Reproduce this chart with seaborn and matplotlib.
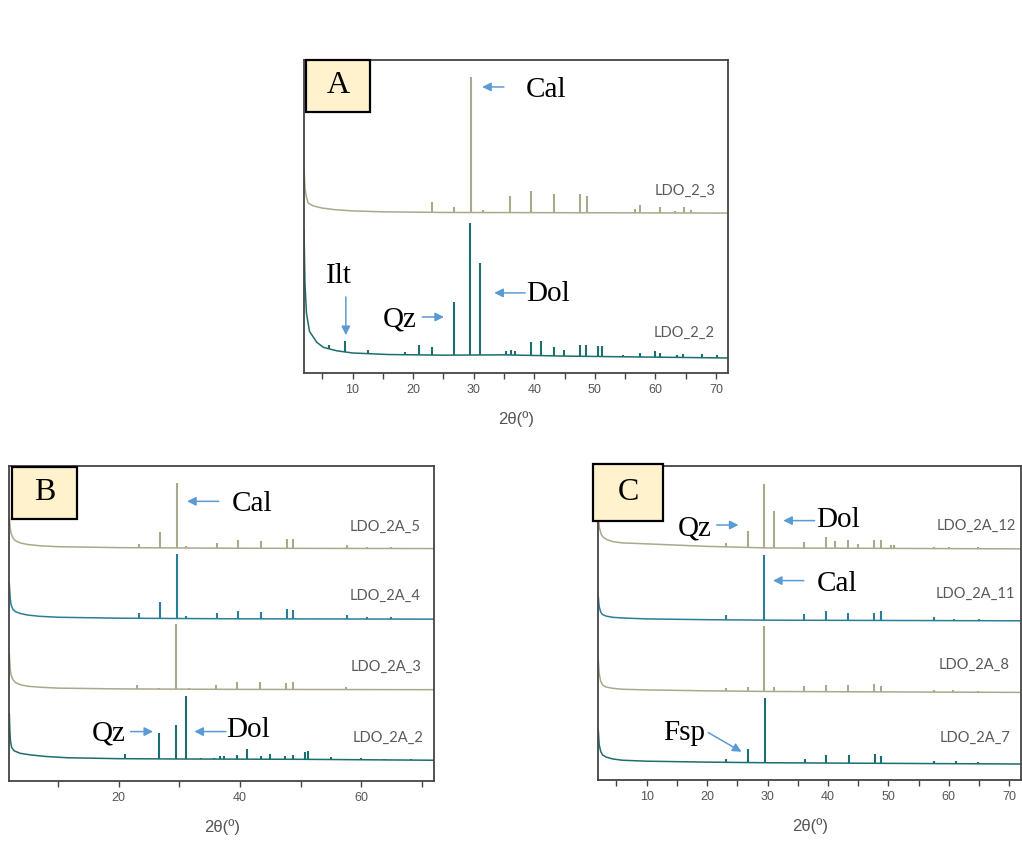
import numpy as np
import matplotlib
matplotlib.use("Agg")
import matplotlib.pyplot as plt
import seaborn as sns
from matplotlib.patches import Rectangle

# ----------------------------
# XRD data (2theta in degrees, intensity in a.u.)
# bg = background curve, pk = peak positions / peak tops
# ----------------------------

# Panel A
a_ldo_2_3_bg_x = [2, 2.15, 2.4, 2.7, 3.5, 5, 7, 10, 15, 25, 72]
a_ldo_2_3_bg_y = [14.3, 8, 5, 3.2, 2.3, 1.6, 1.1, 0.7, 0.4, 0.2, 0]
a_ldo_2_3_pk_x = [23.2, 26.7, 29.5, 31.5, 36.0, 39.5, 43.3, 47.6, 48.7, 56.7, 57.5, 60.7, 63.3, 64.8, 65.8]
a_ldo_2_3_pk_y = [3.5, 1.8, 43.6, 1.0, 5.3, 6.9, 6.1, 6.0, 5.3, 1.2, 2.6, 1.9, 0.7, 2.1, 1.1]

a_ldo_2_2_bg_x = [2, 2.15, 2.4, 2.9, 4.1, 5.2, 7.4, 10, 16, 25, 35, 45, 72]
a_ldo_2_2_bg_y = [40.9, 23.9, 14.3, 8.5, 5.0, 3.4, 2.3, 1.6, 1.1, 0.9, 1.0, 0.6, 0]
a_ldo_2_2_pk_x = [6.2, 8.8, 12.5, 18.7, 20.9, 23.1, 26.7, 29.4, 31.0, 35.4, 36.1, 36.8, 39.5, 41.1,
                  43.2, 44.9, 47.6, 48.6, 50.5, 51.2, 54.7, 57.5, 60.0, 60.8, 63.5, 64.6, 67.7, 70.2]
a_ldo_2_2_pk_y = [4.2, 5.5, 2.6, 1.9, 4.2, 3.4, 17.8, 43.1, 30.3, 2.1, 2.6, 2.3, 5.0, 5.5,
                  3.4, 2.6, 4.2, 4.2, 3.9, 3.7, 1.1, 1.6, 2.1, 1.6, 1.1, 1.4, 1.4, 1.1]

# Panel B
b_ldo_2a_5_bg_x = [2, 2.15, 2.3, 2.6, 3.0, 3.8, 5, 7, 10, 20, 40, 72]
b_ldo_2a_5_bg_y = [10.1, 6.5, 4.8, 3.4, 2.5, 1.8, 1.3, 0.9, 0.6, 0.3, 0.1, 0]
b_ldo_2a_5_pk_x = [23.3, 26.9, 29.6, 31.1, 36.2, 39.7, 43.4, 47.7, 48.8, 57.7, 61.0, 64.9, 66.0]
b_ldo_2a_5_pk_y = [1.6, 5.3, 20.7, 0.7, 1.8, 2.6, 2.4, 3.1, 2.9, 1.0, 0.6, 0.5, 0.3]

b_ldo_2a_4_bg_x = [2, 2.15, 2.3, 2.6, 3.0, 3.8, 5, 7, 10, 20, 40, 72]
b_ldo_2a_4_bg_y = [11.3, 6.5, 4.5, 3.1, 2.4, 1.8, 1.3, 0.9, 0.6, 0.3, 0.1, 0]
b_ldo_2a_4_pk_x = [23.3, 26.9, 29.6, 31.1, 36.2, 39.7, 43.4, 47.7, 48.8, 57.7, 61.0, 64.9]
b_ldo_2a_4_pk_y = [1.8, 5.3, 20.6, 0.9, 2.0, 2.6, 2.3, 3.2, 2.9, 1.3, 0.7, 0.7]

b_ldo_2a_3_bg_x = [2, 2.15, 2.3, 2.6, 3.0, 3.8, 5, 7, 10, 20, 40, 72]
b_ldo_2a_3_bg_y = [11.5, 6.5, 4.6, 3.2, 2.3, 1.6, 1.1, 0.8, 0.5, 0.25, 0.1, 0]
b_ldo_2a_3_pk_x = [23.1, 26.7, 29.5, 31.6, 36.1, 39.5, 43.3, 47.6, 48.7, 57.5, 60.7, 64.6]
b_ldo_2a_3_pk_y = [1.4, 0.6, 20.7, 0.4, 1.6, 2.4, 2.6, 2.2, 2.6, 0.8, 0.3, 0.3]

b_ldo_2a_2_bg_x = [2, 2.1, 2.2, 2.4, 2.8, 3.8, 5.5, 8, 11.5, 20, 30, 50, 72]
b_ldo_2a_2_bg_y = [14.8, 9, 6, 4.0, 3.0, 2.2, 1.7, 1.2, 0.8, 0.5, 0.4, 0.3, 0]
b_ldo_2a_2_pk_x = [21.0, 23.1, 24.1, 26.7, 29.5, 31.1, 33.6, 35.7, 36.8, 37.4, 39.6, 41.2, 43.4, 45.0,
                   47.5, 48.7, 50.7, 51.2, 55.0, 59.9, 63.8, 68.2]
b_ldo_2a_2_pk_y = [1.9, 0.7, 0.7, 8.7, 11.3, 20.4, 0.8, 0.8, 1.2, 1.3, 1.7, 3.7, 1.3, 2.1,
                   1.3, 1.6, 2.5, 2.8, 1.0, 0.8, 0.5, 0.4]

# Panel C
c_ldo_2a_12_bg_x = [2, 2.2, 2.5, 2.8, 3.5, 4.4, 6, 10, 20, 30, 72]
c_ldo_2a_12_bg_y = [10.3, 6.5, 4.6, 3.7, 2.9, 2.3, 1.9, 1.6, 0.8, 0.3, 0]
c_ldo_2a_12_pk_x = [20.9, 23.1, 24.1, 26.7, 29.5, 31.0, 33.6, 36.1, 39.6, 41.2, 43.3, 45.0, 47.6, 48.7,
                    50.4, 51.0, 57.6, 60.1, 64.8]
c_ldo_2a_12_pk_y = [0.7, 1.8, 0.7, 5.8, 20.6, 12.0, 0.4, 2.1, 3.7, 2.5, 2.8, 1.5, 2.8, 2.8,
                    1.3, 1.3, 0.7, 0.6, 0.5]

c_ldo_2a_11_bg_x = [2, 2.15, 2.4, 2.7, 3.3, 4.4, 6, 10, 20, 30, 72]
c_ldo_2a_11_bg_y = [7.7, 4.5, 2.8, 2.0, 1.5, 1.1, 0.9, 0.6, 0.35, 0.2, 0]
c_ldo_2a_11_pk_x = [23.1, 26.7, 29.5, 31.6, 36.1, 39.6, 43.3, 47.6, 48.7, 57.6, 60.9, 65.0]
c_ldo_2a_11_pk_y = [1.8, 0.4, 20.9, 0.4, 2.1, 3.1, 2.6, 2.5, 3.1, 1.1, 0.6, 0.5]

c_ldo_2a_8_bg_x = [2, 2.15, 2.4, 2.7, 3.3, 4.4, 6, 10, 20, 30, 72]
c_ldo_2a_8_bg_y = [10.3, 6, 3.6, 2.4, 1.7, 1.3, 1.0, 0.8, 0.5, 0.3, 0]
c_ldo_2a_8_pk_x = [23.1, 26.7, 29.5, 31.0, 36.1, 39.6, 43.3, 47.6, 48.7, 57.6, 60.7, 64.9]
c_ldo_2a_8_pk_y = [1.5, 1.6, 21.2, 1.8, 2.1, 2.3, 2.3, 2.7, 2.1, 0.7, 0.7, 0.5]

c_ldo_2a_7_bg_x = [2, 2.15, 2.4, 2.7, 3.3, 4.4, 6, 10, 20, 30, 72]
c_ldo_2a_7_bg_y = [10.8, 6.2, 4.0, 2.9, 2.2, 1.6, 1.2, 0.9, 0.6, 0.4, 0]
c_ldo_2a_7_pk_x = [20.9, 23.1, 26.8, 28.1, 29.6, 31.7, 36.2, 39.6, 43.4, 47.7, 48.8, 57.6, 61.2, 64.8]
c_ldo_2a_7_pk_y = [0.7, 1.5, 4.8, 0.5, 21.0, 0.6, 1.7, 2.9, 2.8, 3.2, 2.5, 1.0, 0.8, 0.7]

BEIGE = "#a9a98c"
TEAL = "#1d6e6e"
BLUE_TEAL = "#2a7f96"
ARROW = "#5b9bd5"

# ----------------------------
# Style
# ----------------------------
sns.set_style("white")
plt.rcParams["font.family"] = ["Liberation Sans", "DejaVu Sans"]

fig = plt.figure(figsize=(10.22, 8.42), dpi=100)
ax_a = fig.add_axes([0.2975, 0.557, 0.4149, 0.3717])
ax_b = fig.add_axes([0.0091, 0.0724, 0.4156, 0.3741])
ax_c = fig.add_axes([0.5854, 0.0736, 0.4140, 0.3730])


def draw_trace(ax, bg_x, bg_y, pk_x, pk_y, offset, color, label, lab_x, lab_y):
    y_bg = np.array(bg_y) + offset
    sns.lineplot(x=bg_x, y=y_bg, ax=ax, color=color, lw=1.1, estimator=None, sort=False)
    base = np.interp(pk_x, bg_x, bg_y) + offset
    ax.vlines(pk_x, base, np.array(pk_y) + offset, color=color, lw=1.5)
    ax.text(lab_x, lab_y, label, ha="right", va="baseline", fontsize=10.5,
            color="#5a5a5a", family=["Lato", "DejaVu Sans"])


def setup_axes(ax, major, minor):
    ax.set_xlim(2, 72)
    ax.set_ylim(0, 100)
    ax.set_yticks([])
    ax.set_xticks(major)
    ax.set_xticks(minor, minor=True)
    ax.tick_params(axis="x", which="both", direction="out", length=4, width=1,
                   color="#444444", labelsize=9, labelcolor="#555555", pad=4)
    ax.tick_params(axis="x", which="major", bottom=True)
    ax.tick_params(axis="x", which="minor", bottom=True)
    for s in ax.spines.values():
        s.set_color("#444444")
        s.set_linewidth(1.3)
    ax.set_xlabel("2θ(º)", fontsize=12, color="#555555", labelpad=11)
    ax.set_ylabel("")


def label_phase(ax, text, tx, ty, tail, head):
    ax.text(tx, ty, text, ha="left", va="baseline", fontsize=21,
            family=["Liberation Serif", "DejaVu Serif"], color="black")
    ax.annotate("", xy=head, xytext=tail,
                arrowprops=dict(arrowstyle="-|>", color=ARROW, lw=1.1, mutation_scale=13,
                                shrinkA=0, shrinkB=0))


def panel_box(x0, y0, w, h, letter):
    fig.add_artist(Rectangle((x0, y0), w, h, transform=fig.transFigure, facecolor="#fff2cc",
                             edgecolor="black", lw=1.6, zorder=10))
    fig.text(x0 + w / 2, y0 + h / 2, letter, ha="center", va="center", fontsize=23,
             family=["Liberation Serif", "DejaVu Serif"], color="black", zorder=11)


# ----------------------------
# Panel A
# ----------------------------
draw_trace(ax_a, a_ldo_2_3_bg_x, a_ldo_2_3_bg_y, a_ldo_2_3_pk_x, a_ldo_2_3_pk_y, 51.1, BEIGE,
           "LDO_2_3", 70.0, 56.9)
draw_trace(ax_a, a_ldo_2_2_bg_x, a_ldo_2_2_bg_y, a_ldo_2_2_pk_x, a_ldo_2_2_pk_y, 4.8, TEAL,
           "LDO_2_2", 69.7, 11.5)
setup_axes(ax_a, range(10, 71, 10), range(5, 71, 10))
label_phase(ax_a, "Cal", 38.6, 88.2, (35.0, 91.4), (31.4, 91.4))
label_phase(ax_a, "Ilt", 5.6, 28.8, (8.9, 24.3), (8.9, 12.1))
label_phase(ax_a, "Qz", 15.0, 14.7, (21.5, 17.9), (25.1, 17.9))
label_phase(ax_a, "Dol", 38.6, 23.0, (38.5, 25.6), (33.4, 25.6))

# ----------------------------
# Panel B
# ----------------------------
draw_trace(ax_b, b_ldo_2a_5_bg_x, b_ldo_2a_5_bg_y, b_ldo_2a_5_pk_x, b_ldo_2a_5_pk_y, 73.8, BEIGE,
           "LDO_2A_5", 69.8, 79.5)
draw_trace(ax_b, b_ldo_2a_4_bg_x, b_ldo_2a_4_bg_y, b_ldo_2a_4_pk_x, b_ldo_2a_4_pk_y, 51.4, BLUE_TEAL,
           "LDO_2A_4", 69.8, 57.5)
draw_trace(ax_b, b_ldo_2a_3_bg_x, b_ldo_2a_3_bg_y, b_ldo_2a_3_pk_x, b_ldo_2a_3_pk_y, 29.0, BEIGE,
           "LDO_2A_3", 70.0, 35.0)
draw_trace(ax_b, b_ldo_2a_2_bg_x, b_ldo_2a_2_bg_y, b_ldo_2a_2_pk_x, b_ldo_2a_2_pk_y, 6.6, TEAL,
           "LDO_2A_2", 70.2, 12.5)
setup_axes(ax_b, range(20, 71, 20), range(10, 71, 20))
label_phase(ax_b, "Cal", 38.6, 85.8, (36.5, 88.8), (31.3, 88.8))
label_phase(ax_b, "Qz", 15.6, 13.0, (22.0, 15.7), (25.7, 15.7))
label_phase(ax_b, "Dol", 37.8, 13.9, (37.7, 15.7), (32.5, 15.7))

# ----------------------------
# Panel C
# ----------------------------
draw_trace(ax_c, c_ldo_2a_12_bg_x, c_ldo_2a_12_bg_y, c_ldo_2a_12_pk_x, c_ldo_2a_12_pk_y, 73.6, BEIGE,
           "LDO_2A_12", 71.1, 79.6)
draw_trace(ax_c, c_ldo_2a_11_bg_x, c_ldo_2a_11_bg_y, c_ldo_2a_11_pk_x, c_ldo_2a_11_pk_y, 50.7, BLUE_TEAL,
           "LDO_2A_11", 70.9, 57.9)
draw_trace(ax_c, c_ldo_2a_8_bg_x, c_ldo_2a_8_bg_y, c_ldo_2a_8_pk_x, c_ldo_2a_8_pk_y, 27.9, BEIGE,
           "LDO_2A_8", 70.1, 35.3)
draw_trace(ax_c, c_ldo_2a_7_bg_x, c_ldo_2a_7_bg_y, c_ldo_2a_7_pk_x, c_ldo_2a_7_pk_y, 5.1, TEAL,
           "LDO_2A_7", 70.2, 12.2)
setup_axes(ax_c, range(10, 71, 10), range(5, 71, 10))
label_phase(ax_c, "Qz", 15.1, 78.0, (21.6, 81.2), (25.2, 81.2))
label_phase(ax_c, "Dol", 38.0, 80.7, (37.8, 82.6), (32.6, 82.6))
label_phase(ax_c, "Cal", 38.1, 60.3, (36.0, 63.5), (30.9, 63.5))
label_phase(ax_c, "Fsp", 12.8, 12.7, (20.2, 15.1), (25.7, 9.0))

# ----------------------------
# Panel letters
# ----------------------------
panel_box(0.2994, 0.8670, 0.0626, 0.0618, "A")
panel_box(0.0117, 0.3836, 0.0636, 0.0618, "B")
panel_box(0.5802, 0.3812, 0.0685, 0.0677, "C")

plt.savefig("out.png", dpi=100)
